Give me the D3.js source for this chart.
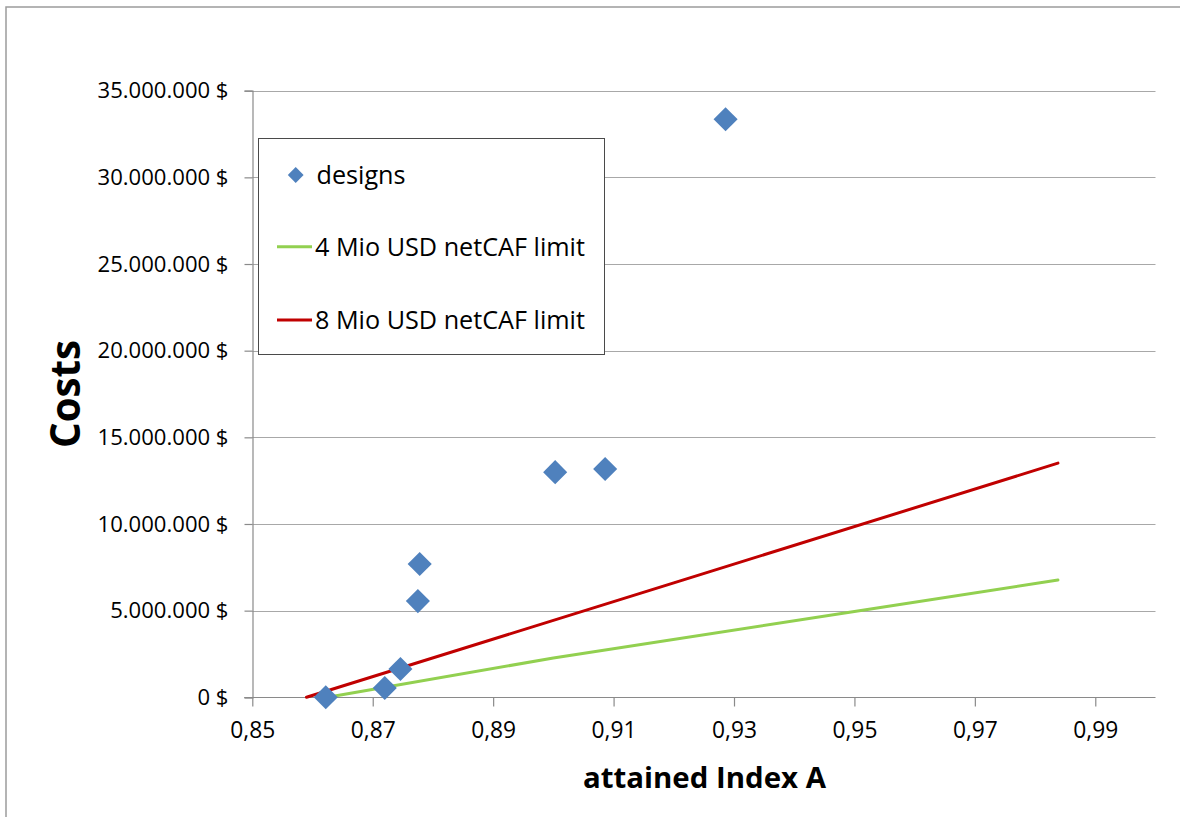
<!DOCTYPE html>
<html>
<head>
<meta charset="utf-8">
<script src="https://cdn.jsdelivr.net/npm/d3@7"></script>
<style>
  html, body { margin: 0; padding: 0; background: #fff; }
  svg { display: block; }
  text { font-family: "Open Sans", "Liberation Sans", sans-serif; fill: #000; }
</style>
</head>
<body>
<svg id="chart" width="1180" height="817"></svg>
<script>
// ---- data ----
const designX = [0.8622, 0.8720, 0.8746, 0.8775, 0.8778, 0.9003, 0.9086, 0.9286];
const designY = [0, 540000, 1630000, 5550000, 7690000, 12990000, 13170000, 33350000];

const limit4X = [0.8625, 0.9000, 0.9500, 0.9838];
const limit4Y = [0, 2270000, 4950000, 6770000];

const limit8X = [0.8590, 0.9200, 0.9838];
const limit8Y = [0, 6600000, 13510000];

const xTicks = [0.85, 0.87, 0.89, 0.91, 0.93, 0.95, 0.97, 0.99];
const yTicks = [0, 5000000, 10000000, 15000000, 20000000, 25000000, 30000000, 35000000];

const seriesNames = ["designs", "4 Mio USD netCAF limit", "8 Mio USD netCAF limit"];
const xTitle = "attained Index A";
const yTitle = "Costs";

// ---- setup ----
const svg = d3.select("#chart");
const locale = d3.formatLocale({decimal: ",", thousands: ".", grouping: [3], currency: ["", " $"]});
const fmtY = locale.format("$,.0f");
const fmtX = locale.format(".2f");

const x = d3.scaleLinear().domain([0.85, 1.0]).range([252.3, 1155.5]);
const y = d3.scaleLinear().domain([0, 35000000]).range([697.3, 90.7]);

const blue = "#4F81BD", green = "#92D050", red = "#C00000";
const axisColor = "#8a8a8a", gridColor = "#a8a8a8";

// fit helper
function fitSize(text, weight, target, base) {
  const t = svg.append("text").attr("font-size", base).attr("font-weight", weight).text(text);
  const w = t.node().getComputedTextLength();
  t.remove();
  return base * target / w;
}
const yTickSize = fitSize("35.000.000 $", "normal", 131, 20);
const xTickSize = fitSize("0,87", "normal", 45, 20);
const legendSize = fitSize(seriesNames[1], "normal", 270, 20);
const yTitleSize = fitSize(yTitle, "bold", 108, 40);
const xTitleSize = fitSize(xTitle, "bold", 243, 30);

// outer border
svg.append("rect").attr("x", 6).attr("y", 7).attr("width", 1200).attr("height", 900)
  .attr("fill", "#fff").attr("stroke", "#9c9c9c").attr("stroke-width", 1.5);

// gridlines
svg.append("g").selectAll("line").data(yTicks.filter(d => d > 0)).join("line")
  .attr("x1", x(0.85)).attr("x2", x(1.0))
  .attr("y1", d => Math.round(y(d)) + 0.5).attr("y2", d => Math.round(y(d)) + 0.5)
  .attr("stroke", gridColor).attr("stroke-width", 1);

// y axis
const yAxis = svg.append("g").attr("transform", `translate(${Math.round(x(0.85)) + 0.5},0)`)
  .call(d3.axisLeft(y).tickValues(yTicks).tickFormat(fmtY).tickSize(8).tickPadding(15));
// x axis
const xAxis = svg.append("g").attr("transform", `translate(0,${Math.round(y(0)) + 0.5})`)
  .call(d3.axisBottom(x).tickValues(xTicks).tickFormat(fmtX).tickSize(9).tickPadding(15));
[yAxis, xAxis].forEach(g => {
  g.select(".domain").attr("stroke", axisColor).attr("stroke-width", 1.2);
  g.selectAll(".tick line").attr("stroke", axisColor).attr("stroke-width", 1.2);
  g.selectAll(".tick text").attr("font-family", '"Open Sans", sans-serif').attr("fill", "#000");
});
yAxis.selectAll(".tick text").attr("font-size", yTickSize).attr("x", -24);
xAxis.selectAll(".tick text").attr("font-size", xTickSize).attr("dy", "0.71em");
xAxis.select(".domain").attr("d", `M${x(0.85) - 8},0H${x(1.0)}`);

// lines
const line = d3.line().x(d => x(d[0])).y(d => y(d[1]));
svg.append("path").datum(limit4X.map((v, i) => [v, limit4Y[i]]))
  .attr("d", line).attr("fill", "none").attr("stroke", green).attr("stroke-width", 3).attr("stroke-linecap", "round");
svg.append("path").datum(limit8X.map((v, i) => [v, limit8Y[i]]))
  .attr("d", line).attr("fill", "none").attr("stroke", red).attr("stroke-width", 3).attr("stroke-linecap", "round");

// markers
const diamond = d3.symbol(d3.symbolSquare, 290);
svg.append("g").selectAll("path").data(designX.map((v, i) => [v, designY[i]])).join("path")
  .attr("d", diamond)
  .attr("transform", d => `translate(${x(d[0])},${y(d[1])}) rotate(45)`)
  .attr("fill", blue);

// legend
const lg = svg.append("g");
lg.append("rect").attr("x", 258.5).attr("y", 138.5).attr("width", 346).attr("height", 216)
  .attr("fill", "#fff").attr("stroke", "#4a4a4a").attr("stroke-width", 1);
lg.append("path").attr("d", d3.symbol(d3.symbolSquare, 125))
  .attr("transform", "translate(295.7,175) rotate(45)").attr("fill", blue);
const legendRows = [
  {name: seriesNames[0], yLine: 175, base: 183.5},
  {name: seriesNames[1], yLine: 246.7, base: 255.5, color: green},
  {name: seriesNames[2], yLine: 320, base: 328.5, color: red}
];
legendRows.forEach((r, i) => {
  if (r.color) {
    lg.append("line").attr("x1", 277).attr("x2", 312).attr("y1", r.yLine).attr("y2", r.yLine)
      .attr("stroke", r.color).attr("stroke-width", 3);
  }
  lg.append("text").attr("x", i === 0 ? 316.5 : 315).attr("y", r.base)
    .attr("font-size", legendSize).text(r.name);
});

// titles
svg.append("text").attr("transform", "translate(80,394) rotate(-90)")
  .attr("text-anchor", "middle").attr("font-weight", "bold").attr("font-size", yTitleSize).text(yTitle);
svg.append("text").attr("x", 704.5).attr("y", 788)
  .attr("text-anchor", "middle").attr("font-weight", "bold").attr("font-size", xTitleSize).text(xTitle);
</script>
</body>
</html>
